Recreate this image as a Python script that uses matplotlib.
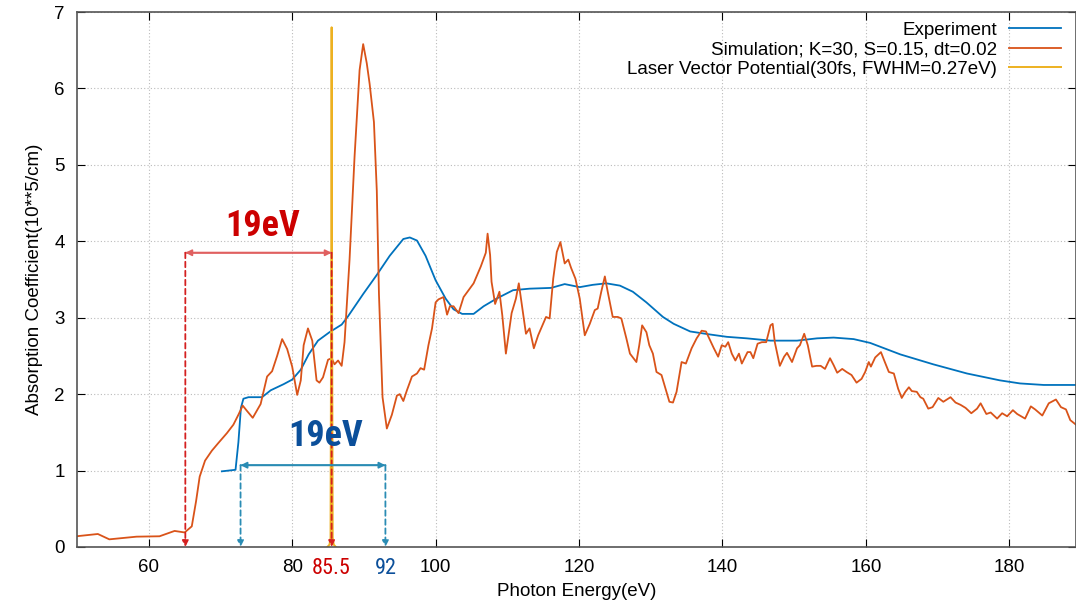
import numpy as np
import matplotlib
matplotlib.use("Agg")
import matplotlib.pyplot as plt
from matplotlib import transforms

# experiment (blue)
exp_x = [70.2, 72.1, 72.5, 72.85, 73.2, 73.9, 75.8, 77.0, 78.8, 80.0, 81.2, 82.3, 83.6, 85.2,
         86.9, 87.8, 89.9, 91.8, 93.6, 95.5, 96.4, 97.4, 98.6, 100.0, 101.4, 102.5, 103.7,
         105.3, 106.7, 108.5, 110.8, 113.1, 116.1, 118.0, 120.1, 121.9, 123.8, 125.7, 127.5,
         129.4, 131.7, 133.2, 135.5, 138.3, 140.6, 143.4, 146.7, 150.4, 153.2, 155.5, 158.3,
         160.6, 164.8, 169.4, 174.1, 178.7, 181.5, 184.8, 189.3]
exp_y = [0.99, 1.01, 1.37, 1.82, 1.94, 1.96, 1.96, 2.05, 2.13, 2.19, 2.32, 2.52, 2.70, 2.81,
         2.91, 3.02, 3.31, 3.56, 3.81, 4.03, 4.05, 4.01, 3.81, 3.49, 3.25, 3.11, 3.05,
         3.05, 3.15, 3.25, 3.36, 3.38, 3.39, 3.44, 3.40, 3.43, 3.45, 3.42, 3.34,
         3.20, 3.01, 2.92, 2.82, 2.78, 2.75, 2.73, 2.70, 2.70, 2.73, 2.74, 2.72,
         2.67, 2.52, 2.39, 2.27, 2.18, 2.14, 2.12, 2.12]

# simulation (orange)
sim_x = [49.9, 52.9, 54.5, 58.3, 61.5, 63.6, 65.0, 66.0, 66.6, 67.1, 67.85, 68.8, 69.7, 70.9,
         71.8, 72.5, 73.1, 73.7, 74.5, 75.6, 76.5, 77.2, 77.9, 78.6, 79.3, 80.0, 80.7, 81.2,
         81.6, 82.2, 82.8, 83.4, 83.8, 84.3, 85.0, 85.5, 85.9, 86.4, 86.9, 87.3, 88.0, 88.7,
         89.4, 89.9, 90.4, 90.8, 91.4, 91.8, 92.1, 92.6, 93.2, 93.9, 94.6, 95.0, 95.5, 96.0,
         96.7, 97.4, 97.9, 98.4, 99.0, 99.5, 100.0, 100.4, 101.1, 101.6, 102.0, 102.5, 103.2,
         103.9, 104.6, 105.3, 106.3, 107.0, 107.25, 107.6, 107.8, 108.3, 108.9, 109.3, 109.8,
         110.1, 110.6, 111.2, 111.6, 112.1, 112.6, 113.1, 113.7, 114.3, 114.9, 115.4, 115.9,
         116.4, 116.9, 117.4, 118.0, 118.5, 118.9, 119.5, 120.1, 120.8, 121.5, 122.2, 122.6,
         123.1, 123.6, 124.0, 124.7, 125.4, 125.9, 126.6, 127.1, 128.0, 128.4, 128.8, 129.4,
         129.8, 130.3, 130.8, 131.5, 132.2, 132.6, 133.1, 133.6, 134.3, 134.9, 135.7, 136.4,
         137.1, 137.7, 138.3, 138.8, 139.4, 139.9, 140.4, 140.8, 141.3, 141.8, 142.3, 142.7,
         143.5, 143.9, 144.3, 144.9, 145.5, 146.1, 146.7, 147.0, 147.3, 148.0, 148.6, 149.0,
         149.7, 150.4, 150.8, 151.4, 151.9, 152.5, 153.1, 153.7, 154.3, 155.0, 155.5, 156.0,
         156.7, 157.3, 158.0, 158.7, 159.4, 159.9, 160.4, 160.7, 161.3, 162.1, 162.6, 163.2,
         163.9, 164.5, 165.0, 165.5, 166.0, 166.4, 167.1, 167.6, 168.0, 168.7, 169.3, 170.1,
         170.8, 171.8, 172.5, 173.2, 173.9, 174.7, 175.5, 176.0, 176.8, 177.4, 178.3, 179.0,
         179.7, 180.5, 181.1, 182.2, 183.0, 183.6, 184.6, 185.5, 186.5, 187.2, 187.9, 188.5,
         189.3]
sim_y = [0.14, 0.17, 0.10, 0.135, 0.14, 0.21, 0.19, 0.27, 0.6, 0.92, 1.13, 1.26, 1.36, 1.49,
         1.60, 1.73, 1.85, 1.78, 1.69, 1.87, 2.23, 2.30, 2.50, 2.72, 2.59, 2.36, 1.99, 2.18,
         2.64, 2.86, 2.70, 2.18, 2.15, 2.22, 2.45, 2.47, 2.39, 2.44, 2.37, 2.68, 3.76, 5.11,
         6.24, 6.58, 6.33, 6.06, 5.56, 4.66, 3.31, 1.96, 1.55, 1.73, 1.98, 2.0, 1.91, 2.05,
         2.23, 2.27, 2.34, 2.32, 2.64, 2.86, 3.20, 3.24, 3.27, 3.04, 3.15, 3.15, 3.06,
         3.27, 3.36, 3.45, 3.67, 3.85, 4.10, 3.82, 3.47, 3.18, 3.34, 3.03, 2.53,
         2.73, 3.06, 3.25, 3.45, 3.12, 2.79, 2.86, 2.60, 2.77, 2.90, 3.01, 2.99,
         3.51, 3.86, 3.99, 3.71, 3.76, 3.65, 3.51, 3.25, 2.77, 2.92, 3.10, 3.12,
         3.34, 3.54, 3.34, 3.01, 3.01, 2.99, 2.73, 2.53, 2.42, 2.64, 2.90, 2.81,
         2.64, 2.53, 2.29, 2.25, 2.03, 1.90, 1.89, 2.03, 2.42, 2.40, 2.60, 2.73,
         2.83, 2.82, 2.70, 2.60, 2.49, 2.64, 2.62, 2.68, 2.53, 2.44, 2.53, 2.40,
         2.55, 2.55, 2.47, 2.66, 2.68, 2.68, 2.90, 2.92, 2.68, 2.37, 2.49, 2.54,
         2.42, 2.60, 2.64, 2.79, 2.64, 2.36, 2.37, 2.37, 2.33, 2.47, 2.38, 2.28,
         2.33, 2.29, 2.25, 2.15, 2.20, 2.29, 2.42, 2.36, 2.48, 2.55, 2.43, 2.29,
         2.27, 2.07, 1.95, 2.03, 2.09, 2.04, 2.03, 1.96, 1.94, 1.81, 1.83, 1.95,
         1.90, 1.96, 1.89, 1.86, 1.82, 1.75, 1.81, 1.88, 1.74, 1.76, 1.68, 1.75,
         1.71, 1.79, 1.74, 1.68, 1.84, 1.80, 1.72, 1.88, 1.93, 1.83, 1.80, 1.66,
         1.60]

# laser vector potential (gold)
las_x = [84.9, 85.2, 85.35, 85.44, 85.5, 85.56, 85.65, 85.8, 86.1]
las_y = [0.0, 0.03, 0.12, 3.4, 6.8, 3.4, 0.12, 0.03, 0.0]

labels = ["Experiment", "Simulation; K=30, S=0.15, dt=0.02",
          "Laser Vector Potential(30fs, FWHM=0.27eV)"]

red_left, red_right, red_level = 65.1, 85.5, 3.85
blue_left, blue_right, blue_level = 72.8, 93.0, 1.07

c_exp = "#0072bd"
c_sim = "#d95319"
c_las = "#edb120"
c_red = "#d42020"
c_blue_arr = "#2a8cb4"
c_blue_txt = "#0b4f9a"

narrow = ["Roboto Condensed", "Liberation Sans Narrow", "DejaVu Sans"]

plt.rcParams['font.family'] = ['Liberation Sans', 'DejaVu Sans']
fig = plt.figure(figsize=(10.76, 6.13), dpi=100)
ax = fig.add_axes([0.0716, 0.1077, 0.9284, 0.8727])

ax.plot(exp_x, exp_y, color=c_exp, lw=1.3, label=labels[0])
ax.plot(sim_x, sim_y, color=c_sim, lw=1.3, label=labels[1])
ax.plot(las_x, las_y, color=c_las, lw=1.4, label=labels[2])

ax.set_xlim(50, 189.3)
ax.set_ylim(0, 7)
ax.set_xticks([60, 80, 100, 120, 140, 160, 180])
ax.set_yticks(range(0, 8))
ax.grid(True, color="#bbbbbb", linestyle=(0, (1, 2)), lw=0.8)
ax.tick_params(direction="in", top=True, right=True, labelsize=13.5, length=6, pad=9)
for s in ax.spines.values():
    s.set_color("#555555")
    s.set_linewidth(1.2)
ax.set_xlabel("Photon Energy(eV)", fontsize=13.5, labelpad=5)
ax.set_ylabel("Absorption Coefficient(10**5/cm)", fontsize=13.5, labelpad=8)

arr = dict(arrowstyle="-|>", mutation_scale=9, lw=1.3, shrinkA=0, shrinkB=0)
# red annotation
ax.annotate("", xy=(red_left, red_level), xytext=(red_right, red_level),
            arrowprops=dict(arr, color="#e06060"))
ax.annotate("", xy=(red_right, red_level), xytext=(red_left, red_level),
            arrowprops=dict(arr, color="#e06060"))
for xv in (red_left, red_right):
    ax.annotate("", xy=(xv, 0.0), xytext=(xv, red_level),
                arrowprops=dict(arr, color=c_red, linestyle=(0, (3, 2))))
ax.text(75.9, 4.2, "19eV", color="#cc0000", fontsize=26, fontweight="bold",
        family=narrow, fontstretch="condensed", ha="center", va="center")

# blue annotation
ax.annotate("", xy=(blue_left, blue_level), xytext=(blue_right, blue_level),
            arrowprops=dict(arr, color=c_blue_arr))
ax.annotate("", xy=(blue_right, blue_level), xytext=(blue_left, blue_level),
            arrowprops=dict(arr, color=c_blue_arr))
for xv in (blue_left, blue_right):
    ax.annotate("", xy=(xv, 0.0), xytext=(xv, blue_level),
                arrowprops=dict(arr, color=c_blue_arr, linestyle=(0, (3, 2))))
ax.text(84.6, 1.45, "19eV", color=c_blue_txt, fontsize=26, fontweight="bold",
        family=narrow, fontstretch="condensed", ha="center", va="center")

trans = transforms.blended_transform_factory(ax.transData, ax.transAxes)
ax.text(85.5, -0.02, "85.5", color="#cc0000", fontsize=16, family=narrow,
        ha="center", va="top", transform=trans)
ax.text(93.0, -0.02, "92", color=c_blue_txt, fontsize=16, family=narrow,
        ha="center", va="top", transform=trans)

leg = ax.legend(loc="upper right", frameon=False, fontsize=13.5, markerfirst=False,
                handlelength=2.8, handletextpad=0.6, labelspacing=0.12,
                borderaxespad=0.4, bbox_to_anchor=(1.0, 1.01))
for t in leg.get_texts():
    t.set_ha("right")

fig.savefig("out.png", dpi=100)
